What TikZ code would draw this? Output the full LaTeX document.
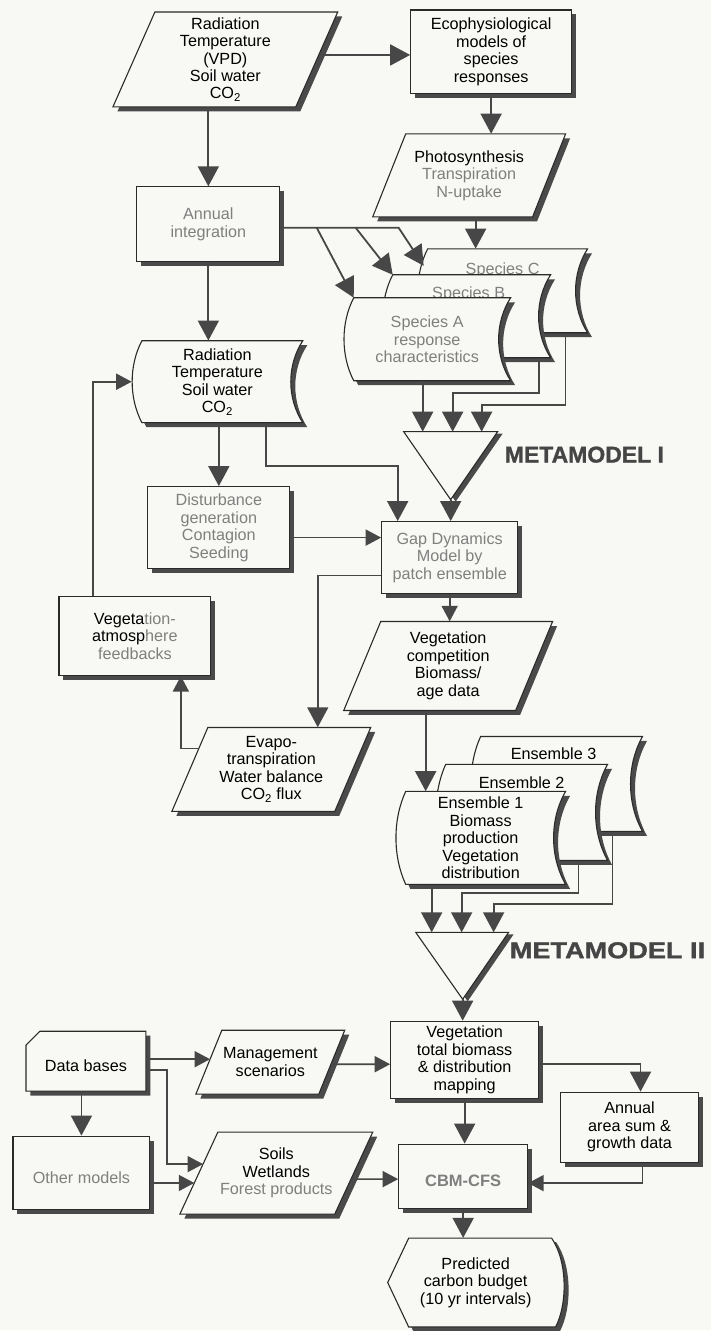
\documentclass[tikz,border=0pt]{standalone}
\usepackage{fontspec}
\setmainfont{Liberation Sans}
\newfontfamily\mmfont{Liberation Sans}[BoldFeatures={FakeBold=1.2}]
\usepackage{graphicx}
\usetikzlibrary{arrows.meta,calc}
\definecolor{paper}{HTML}{F8F8F4}
\definecolor{linec}{HTML}{474747}
\definecolor{bordc}{HTML}{2A2A2A}
\definecolor{shadowc}{HTML}{4A4A4A}
\definecolor{tg}{HTML}{7F7F7F}
\definecolor{mmc}{HTML}{454545}
\newcommand{\fs}{\fontsize{16.2}{17.5}\selectfont}

% rectangle with shadow: [opts]{name}{cx}{cy}{w}{h}{text}
\newcommand{\rectbox}[7][]{%
  \fill[shadowc] ({#3-#5/2+4.5},{#4-#6/2+4.5}) rectangle ({#3+#5/2+4.5},{#4+#6/2+4.5});
  \node[rbox, minimum width={#5}, minimum height={#6}, #1] (#2) at (#3,#4) {#7};
}
% parallelogram: [opts]{name}{x top-left}{x top-right}{y top}{y bottom}{skew}{text}
\newcommand{\pgshape}[8][]{%
  \coordinate (#2-tl) at (#3,#5);
  \coordinate (#2-tr) at (#4,#5);
  \coordinate (#2-br) at ({#4-#7},#6);
  \coordinate (#2-bl) at ({#3-#7},#6);
  \fill[shadowc,xshift=4.5pt,yshift=-4.5pt] (#3,#5) -- (#4,#5) -- ({#4-#7},#6) -- ({#3-#7},#6) -- cycle;
  \filldraw[shapeline] (#2-tl) -- (#2-tr) -- (#2-br) -- (#2-bl) -- cycle;
  \node[inner sep=0pt, txt, minimum width={#4-#3+#7}, minimum height={#6-#5}, #1] (#2) at ({(#3-#7+#4)/2},{(#5+#6)/2}) {#8};
}
% stored-data shape: [opts]{name}{x left}{x right}{y top}{y bottom}{text}
\newcommand{\sdshape}[7][]{%
  \coordinate (#2-tl) at (#3,#5);
  \coordinate (#2-bl) at (#3,#6);
  \fill[shadowc,xshift=4.5pt,yshift=-4.5pt] (#3,#5) -- (#4,#5) .. controls ({#4-16},{#5+0.3*(#6-#5)}) and ({#4-16},{#6-0.3*(#6-#5)}) .. (#4,#6) -- (#3,#6) .. controls ({#3-13},{#6-0.3*(#6-#5)}) and ({#3-13},{#5+0.3*(#6-#5)}) .. (#3,#5) -- cycle;
  \filldraw[shapeline] (#3,#5) -- (#4,#5) .. controls ({#4-16},{#5+0.3*(#6-#5)}) and ({#4-16},{#6-0.3*(#6-#5)}) .. (#4,#6) -- (#3,#6) .. controls ({#3-13},{#6-0.3*(#6-#5)}) and ({#3-13},{#5+0.3*(#6-#5)}) .. (#3,#5) -- cycle;
  \node[inner sep=0pt, txt, minimum width={#4-#3+10}, minimum height={#6-#5}, #1] (#2) at ({(#3-10+#4)/2},{(#5+#6)/2}) {#7};
}

\begin{document}
\begin{tikzpicture}[x=1pt,y=-1pt,
  txt/.style={align=center, font=\fs, text=black, execute at begin node={\rule{0pt}{21pt}}},
  shapeline/.style={draw=bordc, line width=1.1pt, fill=paper},
  rbox/.style={draw=bordc, line width=1.1pt, fill=paper, inner sep=0pt, txt},
  mmlab/.style={font=\fontsize{23}{25}\selectfont\mmfont\bfseries, text=mmc, inner sep=0pt},
  arr/.style={draw=linec, line width=1.8pt, -{Triangle[length=20pt,width=21pt]}},
  sarr/.style={draw=linec, line width=1.7pt, -{Triangle[length=15.5pt,width=16pt]}}]

\fill[paper] (0,0) rectangle (712,1331);

% ---------- top ----------
\pgshape{rad1}{155}{338}{12}{107}{42}{Radiation\\Temperature\\(VPD)\\Soil water\\CO\textsubscript{2}}
\rectbox{eco}{491.5}{52}{161}{84}{Ecophysiological\\models of\\species\\responses}
\pgshape{photo}{406}{566}{134}{217}{33}{Photosynthesis\\{\color{tg}Transpiration}\\{\color{tg}N-uptake}}
\rectbox[text=tg]{annual}{208.5}{224.5}{143}{75}{Annual\\integration}

% ---------- species stack ----------
\sdshape[text=tg]{spC}{428}{588}{249}{333}{}
\node[txt, text=tg, inner sep=0pt] (spC-lab) at (503,265.5) {Species C};
\sdshape[text=tg]{spB}{393}{551}{275}{358}{}
\node[txt, text=tg, inner sep=0pt] (spB-lab) at (469,289.5) {Species B};
\sdshape[text=tg]{spA}{354}{511}{298}{381}{Species A\\response\\characteristics}

\sdshape{tape2}{142}{303}{341}{423}{Radiation\\Temperature\\Soil water\\CO\textsubscript{2}}

% ---------- metamodel I ----------
\fill[shadowc] (409,434) -- (503,434) -- (456,502) -- cycle;
\filldraw[shapeline] (404,432) -- (498,432) -- (451,500) -- cycle;
\coordinate (mm1-apex) at (451,500);
\node[mmlab, anchor=west] (mm1-label) at (505,455) {METAMODEL I};

% ---------- middle ----------
\rectbox[text=tg]{disturb}{219}{528}{142}{82}{Disturbance\\generation\\Contagion\\Seeding}
\rectbox[text=tg]{gap}{450}{558}{136}{72}{Gap Dynamics\\Model by\\patch ensemble}
\rectbox{vegatm}{135}{636.5}{152}{79}{Vegeta{\color{tg}tion-}\\atmosp{\color{tg}here}\\{\color{tg}feedbacks}}
\pgshape{vegcomp}{381}{553}{622}{711}{37}{Vegetation\\competition\\Biomass/\\age data}
\pgshape{evapo}{208}{371}{728}{812}{36}{Evapo-\\transpiration\\Water balance\\CO\textsubscript{2} flux}

% ---------- ensembles ----------
\sdshape{ens3}{481}{643}{737}{832}{}
\node[txt, inner sep=0pt] (ens3-lab) at (554,750) {Ensemble 3};
\sdshape{ens2}{446}{608}{765}{861}{}
\node[txt, inner sep=0pt] (ens2-lab) at (522,779) {Ensemble 2};
\sdshape{ens1}{406}{566}{792}{885}{Ensemble 1\\Biomass\\production\\Vegetation\\distribution}

% ---------- metamodel II ----------
\fill[shadowc] (421,935) -- (514,935) -- (468,1002) -- cycle;
\filldraw[shapeline] (416,933) -- (509,933) -- (463,1000) -- cycle;
\coordinate (mm2-apex) at (463,1000);
\node[mmlab, anchor=west] (mm2-label) at (510,951) {\scalebox{1.18}[1]{METAMODEL II}};

% ---------- bottom ----------
\rectbox{vegtot}{465}{1060.5}{148}{77}{Vegetation\\total biomass\\\& distribution\\mapping}
\rectbox{annarea}{630}{1128}{138}{70}{Annual\\area sum \&\\growth data}
\rectbox[text=tg, font={\fontsize{16.5}{18}\selectfont\bfseries}]{cbm}{463.5}{1177}{129}{64}{CBM-CFS}

\fill[shadowc,xshift=4.5pt,yshift=-4pt] (409,1239) -- (552,1239) .. controls (568,1262) and (568,1305) .. (556,1328) -- (409,1328) -- (388,1283.5) -- cycle;
\filldraw[shapeline] (409,1239) -- (552,1239) .. controls (568,1262) and (568,1305) .. (556,1328) -- (409,1328) -- (388,1283.5) -- cycle;
\node[inner sep=0pt, txt, minimum width=176pt, minimum height=89pt] (predicted) at (476,1283.5) {Predicted\\carbon budget\\(10 yr intervals)};

\fill[shadowc,xshift=4.5pt,yshift=-4.5pt] (40,1032) -- (146,1032) -- (146,1092) -- (26,1092) -- (26,1046) -- cycle;
\filldraw[shapeline] (40,1032) -- (146,1032) -- (146,1092) -- (26,1092) -- (26,1046) -- cycle;
\node[inner sep=0pt, txt, minimum width=120pt, minimum height=60pt] (databases) at (86,1062) {Data bases};

\pgshape{manage}{222}{345}{1031}{1095}{26}{Management\\scenarios}
\rectbox[text=tg]{otherm}{81.5}{1173.5}{137}{73}{Other models}
\pgshape{soils}{218}{373}{1133}{1215}{38}{Soils\\Wetlands\\{\color{tg}Forest products}}

% ---------- connectors ----------
\coordinate (j1) at (317,228);
\coordinate (j2) at (356,228);
\coordinate (j3) at (399,228);
\coordinate (spC-e) at ([xshift=-4pt,yshift=-17pt]spC-tl);
\coordinate (mm1-in1) at (423,432);
\coordinate (mm1-in2) at (453,432);
\coordinate (mm1-in3) at (482,432);
\coordinate (c2) at (539,393);
\coordinate (c3) at (566,405);
\coordinate (b1) at (266,466);
\coordinate (mm2-in1) at (432,933);
\coordinate (mm2-in2) at (462,933);
\coordinate (mm2-in3) at (494,933);
\coordinate (e2) at (579,894);
\coordinate (e3) at (613,905);

\draw[arr] ($(rad1-tr)!0.4526!(rad1-br)$) -- ([yshift=-3pt]eco.west);
\draw[arr] (rad1.south -| annual.north) -- (annual.north);
\draw[arr] (eco.south) -- (eco.south |- photo.north);
\coordinate (p2s) at ([xshift=6.5pt]photo.south);
\draw[arr] (p2s) -- (p2s |- spC.north);

\draw[arr] (annual.east |- j3) -- (j3) -- (spC-e);
\draw[arr] (j1) -- (spA-tl);
\draw[arr] (j2) -- (spB-tl);

\draw[arr] (annual.south) -- (annual.south |- tape2.north);
\draw[arr] (tape2.south -| disturb.north) -- (disturb.north);
\coordinate (g-in) at ([xshift=-52pt]gap.north);
\draw[arr] (tape2.south -| b1) -- (b1) -| (g-in);

\draw[arr] (spA.south -| mm1-in1) -- (mm1-in1);
\draw[arr] (spB.south -| c2) -- (c2) -| (mm1-in2);
\draw[arr] (spC.south -| c3) -- (c3) -| (mm1-in3);
\draw[arr] (mm1-apex) -- (mm1-apex |- gap.north);

\coordinate (d2g) at ([yshift=20pt]gap.west);
\draw[sarr] (disturb.east |- d2g) -- (d2g);
\coordinate (g2e) at ([yshift=-18pt]gap.west);
\coordinate (e-in) at ([xshift=46.5pt]evapo.north);
\draw[arr] (g2e) -| (e-in);
\draw[sarr] (gap.south) -- (gap.south |- vegcomp.north);
\coordinate (v2e) at ([xshift=-22.5pt]vegcomp.south);
\draw[arr] (v2e) -- (v2e |- ens1.north);
\coordinate (va-in) at ([xshift=46pt]vegatm.south);
\draw[sarr] ($(evapo-tl)!0.25!(evapo-bl)$) -| (va-in);
\coordinate (va-out) at ([xshift=-42pt]vegatm.north);
\draw[sarr] (va-out) |- (tape2.west);

\draw[arr] (ens1.south -| mm2-in1) -- (mm2-in1);
\draw[arr] (ens2.south -| e2) -- (e2) -| (mm2-in2);
\draw[arr] (ens3.south -| e3) -- (e3) -| (mm2-in3);
\draw[arr] (mm2-apex) -- (mm2-apex |- vegtot.north);

\coordinate (v2a) at ([yshift=-4.5pt]vegtot.east);
\coordinate (a-in) at ([xshift=11pt]annarea.north);
\draw[arr] (v2a) -| (a-in);
\draw[arr] (vegtot.south) -- (vegtot.south |- cbm.north);
\coordinate (a-out) at ([xshift=13pt]annarea.south);
\coordinate (a2c) at ([yshift=-7pt]cbm.east);
\draw[sarr] (a-out) |- (a2c);
\draw[arr] (cbm.south) -- (cbm.south |- predicted.north);

\coordinate (d2m) at ($(manage-tl)!0.453!(manage-bl)$);
\draw[sarr] (databases.east |- d2m) -- (d2m);
\coordinate (m2v) at ([yshift=-4.5pt]vegtot.west);
\draw[sarr] ($(manage-tr)!0.531!(manage-br)$) -- (m2v);
\coordinate (s1) at ($(soils-tl)!0.39!(soils-bl)$);
\coordinate (s1k) at ([xshift=-36pt]s1);
\draw[sarr] ([yshift=-9pt]databases.east) -| (s1k) -- (s1);
\draw[arr] (databases.south -| otherm.north) -- (otherm.north);
\coordinate (s2) at ($(soils-tl)!0.62!(soils-bl)$);
\draw[sarr] (otherm.east |- s2) -- (s2);
\coordinate (s2c) at ([yshift=-3pt]cbm.west);
\draw[sarr] ($(soils-tr)!0.573!(soils-br)$) -- (s2c);
\end{tikzpicture}
\end{document}
